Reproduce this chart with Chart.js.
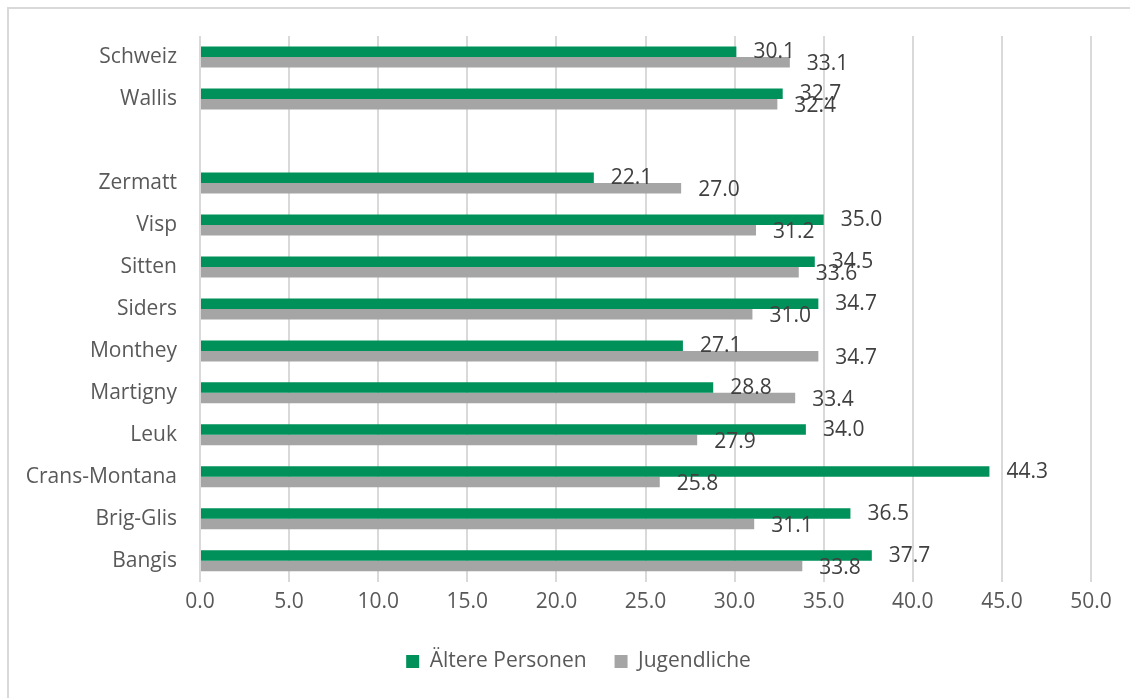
<!DOCTYPE html>
<html>
<head>
<meta charset="utf-8">
<script src="https://cdn.jsdelivr.net/npm/chart.js@4"></script>
<style>
  html, body { margin: 0; padding: 0; background: #fff; }
  #wrap { position: relative; width: 1130px; height: 698px; }
  #frame { position: absolute; left: 7px; top: 7px; right: 0; bottom: 0;
           border-top: 2px solid #d9d9d9; border-left: 2px solid #d9d9d9; }
  #chart { position: absolute; left: 0; top: 0; }
</style>
</head>
<body>
<div id="wrap">
  <div id="frame"></div>
  <canvas id="chart" width="1130" height="698"></canvas>
</div>
<script>
// Gemeinden und Vergleichswerte (leere Zeile trennt Schweiz/Wallis von den Gemeinden)
const places = ['Schweiz', 'Wallis', '', 'Zermatt', 'Visp', 'Sitten', 'Siders', 'Monthey',
  'Martigny', 'Leuk', 'Crans-Montana', 'Brig-Glis', 'Bangis'];
const aeltere = [30.1, 32.7, null, 22.1, 35.0, 34.5, 34.7, 27.1, 28.8, 34.0, 44.3, 36.5, 37.7];
const jugendliche = [33.1, 32.4, null, 27.0, 31.2, 33.6, 31.0, 34.7, 33.4, 27.9, 25.8, 31.1, 33.8];
const xTicks = [0, 5, 10, 15, 20, 25, 30, 35, 40, 45, 50];

const FONT = 'Open Sans';
const FONT_SIZE = 21;

// Wert rechts neben jedem Balken
const barValues = {
  id: 'barValues',
  afterDatasetsDraw(chart) {
    const ctx = chart.ctx;
    ctx.save();
    ctx.font = FONT_SIZE + 'px "' + FONT + '"';
    ctx.fillStyle = '#404040';
    ctx.textAlign = 'left';
    ctx.textBaseline = 'middle';
    chart.data.datasets.forEach((ds, i) => {
      chart.getDatasetMeta(i).data.forEach((bar, j) => {
        const v = ds.data[j];
        if (v == null) return;
        ctx.fillText(v.toFixed(1), bar.x + 17, bar.y + (i === 0 ? 0 : 2));
      });
    });
    ctx.restore();
  }
};

// Legende etwas nach rechts ruecken (mittig unter der Zeichenflaeche)
const legendShift = {
  id: 'legendShift',
  afterLayout(chart) {
    const lg = chart.legend;
    if (!lg) return;
    lg.left += 33;
    lg.right += 33;
  }
};

new Chart(document.getElementById('chart'), {
  type: 'bar',
  data: {
    labels: places,
    datasets: [
      { label: 'Ältere Personen', data: aeltere, backgroundColor: '#00915a' },
      { label: 'Jugendliche', data: jugendliche, backgroundColor: '#a5a5a5' }
    ]
  },
  options: {
    indexAxis: 'y',
    responsive: false,
    animation: false,
    barPercentage: 1,
    categoryPercentage: 0.5,
    layout: { padding: { top: 36, right: 39, bottom: 16, left: 0 } },
    scales: {
      x: {
        min: 0,
        max: 50,
        afterBuildTicks(scale) { scale.ticks = xTicks.map(v => ({ value: v })); },
        ticks: {
          callback: v => Number(v).toFixed(1),
          color: '#595959',
          font: { family: FONT, size: FONT_SIZE },
          padding: 8,
          maxRotation: 0
        },
        grid: { color: '#d9d9d9', lineWidth: 2, drawTicks: false },
        border: { display: false }
      },
      y: {
        afterFit(scale) { scale.width = 200; },
        ticks: {
          color: '#595959',
          font: { family: FONT, size: FONT_SIZE },
          padding: 15
        },
        grid: { display: false },
        border: { display: false }
      }
    },
    plugins: {
      legend: {
        position: 'bottom',
        labels: {
          boxWidth: 13,
          boxHeight: 13,
          color: '#595959',
          font: { family: FONT, size: FONT_SIZE },
          padding: 28
        }
      },
      tooltip: { enabled: false }
    }
  },
  plugins: [barValues, legendShift]
});
</script>
</body>
</html>
